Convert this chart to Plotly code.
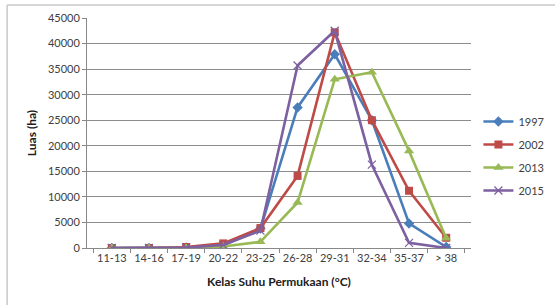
import plotly.graph_objects as go

categories = ["11-13", "14-16", "17-19", "20-22", "23-25", "26-28", "29-31", "32-34", "35-37", "> 38"]
y1997 = [0, 0, 100, 500, 3800, 27500, 37900, 25000, 4800, 200]
y2002 = [0, 0, 200, 900, 3900, 14100, 42200, 25000, 11200, 2000]
y2013 = [0, 0, 50, 300, 1200, 8900, 33000, 34400, 19000, 1900]
y2015 = [0, 0, 100, 600, 3400, 35700, 42500, 16300, 1000, 0]
yticks = [0, 5000, 10000, 15000, 20000, 25000, 30000, 35000, 40000, 45000]

series = [
    ("1997", y1997, "#4A7EBB", dict(symbol="diamond", size=8)),
    ("2002", y2002, "#BE4B48", dict(symbol="square", size=8)),
    ("2013", y2013, "#98B954", dict(symbol="triangle-up", size=9)),
    ("2015", y2015, "#7D60A0", dict(symbol="x-thin-open", size=8, line=dict(width=1.2, color="#7D60A0"))),
]

fig = go.Figure()
for name, vals, col, mk in series:
    fig.add_trace(go.Scatter(
        x=categories, y=vals, name=name, mode="lines+markers",
        line=dict(color=col, width=2.6),
        marker=dict(color=col, **mk),
        legendgroup=name,
    ))

font = "Lato, 'Liberation Sans', sans-serif"
fig.update_layout(
    width=555, height=305,
    margin=dict(l=87, r=84, t=18, b=57),
    paper_bgcolor="white", plot_bgcolor="white",
    font=dict(family=font, size=11, color="#404040"),
    showlegend=True,
    legend=dict(xref="container", x=0.862, y=0.40, xanchor="left", yanchor="middle",
                font=dict(size=11, color="#404040"), tracegroupgap=4, itemwidth=30,
                bgcolor="rgba(0,0,0,0)"),
    xaxis=dict(
        type="category", showgrid=False, showline=True, linecolor="#888888", linewidth=1,
        ticks="outside", tickson="boundaries", ticklen=4, tickcolor="#888888",
        tickangle=0, automargin=False,
        title=dict(text="<b>Kelas Suhu Permukaan (°C)</b>", font=dict(size=12, color="#202020"), standoff=14),
        tickfont=dict(size=11, color="#404040"),
    ),
    yaxis=dict(
        range=[0, 45000], tickvals=yticks, ticktext=[str(v) for v in yticks],
        showgrid=True, gridcolor="#8c8c8c", gridwidth=1,
        showline=True, linecolor="#888888", linewidth=1, automargin=False,
        ticks="outside", ticklen=4, tickcolor="#888888", zeroline=False,
        title=dict(text="<b>Luas (ha)</b>", font=dict(size=12, color="#202020"), standoff=8),
        tickfont=dict(size=11, color="#404040"),
    ),
    shapes=[
        dict(type="line", xref="paper", yref="paper", x0=-0.208, x1=1.3, y0=1.057, y1=1.057,
             line=dict(color="#c8c8c8", width=1.5)),
        dict(type="line", xref="paper", yref="paper", x0=-0.208, x1=-0.208, y0=1.057, y1=-0.25,
             line=dict(color="#c8c8c8", width=1.5)),
    ],
)

fig.write_html("out.html", config={"displayModeBar": False},
               post_script="document.body.style.margin='0px';")
